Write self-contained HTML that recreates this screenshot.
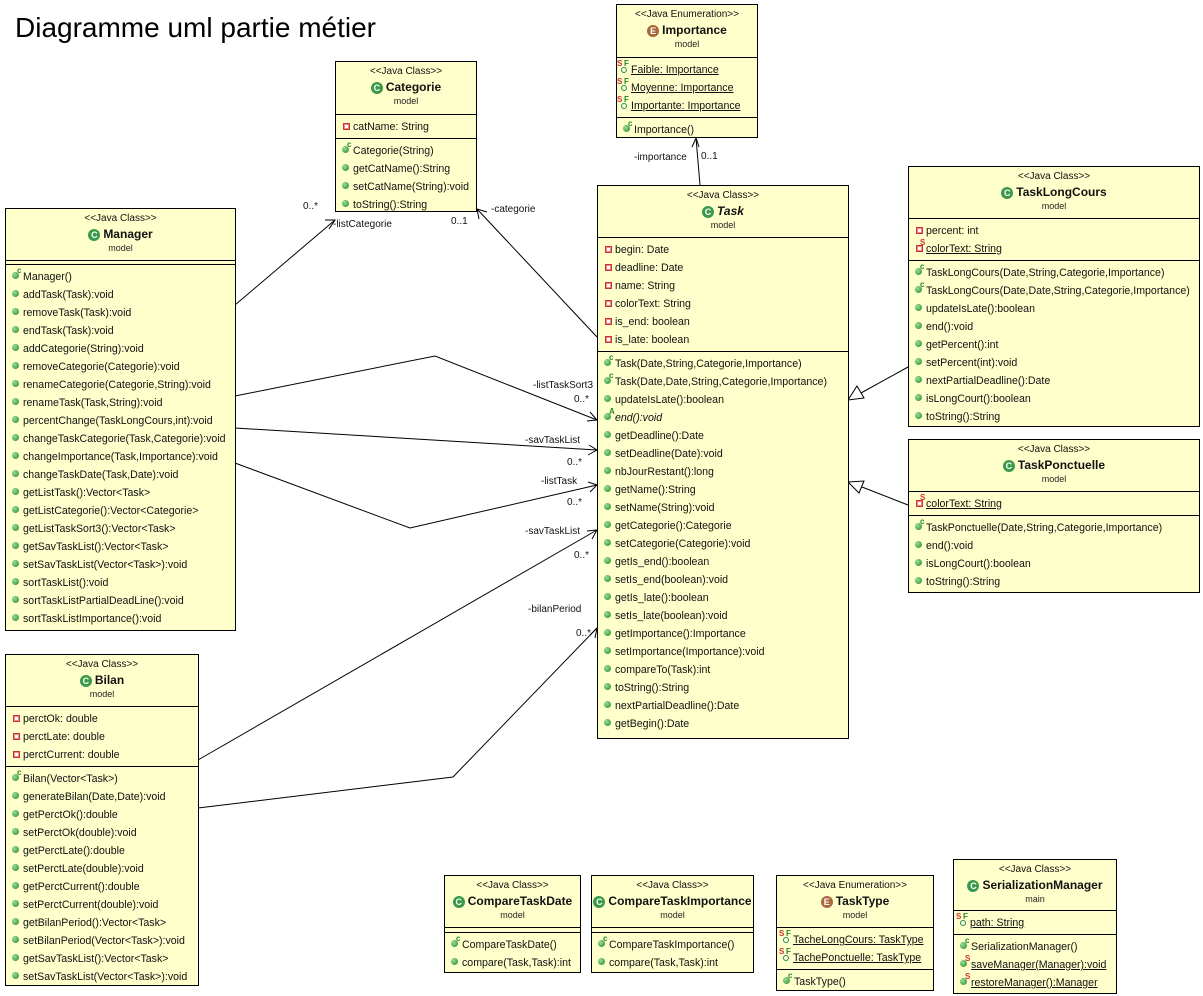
<!DOCTYPE html>
<html><head><meta charset="utf-8"><style>
body{margin:0;width:1203px;height:996px;background:#fff;position:relative;font-family:"Liberation Sans",sans-serif;font-size:10.6px;color:#111;overflow:hidden}
.t{position:absolute;left:15px;top:12px;font-size:28px;color:#000}
.b{position:absolute;background:#ffffcc;border:1px solid #000;box-sizing:border-box}
.h{text-align:center;border-bottom:1px solid #000;box-sizing:border-box}
.h .st{font-size:10px;padding-top:4px;height:13px}
.h .nm{font-weight:bold;font-size:12px;height:17px;line-height:17px}
.h .pk{font-size:9px;color:#222;height:14px}
.s{border-bottom:1px solid #000;padding:3px 0 2px}
.s:last-child{border-bottom:none}
.r{height:18px;line-height:18px;padding-left:6px;white-space:nowrap}
.i{display:inline-block;width:11px;position:relative;height:10px;vertical-align:-1px}
.pv:before{content:"";position:absolute;left:1px;top:2px;width:5px;height:5px;background:#fff;border:1px solid #c33;box-shadow:inset 0 0 0 1px #e88}
.pm:before{content:"";position:absolute;left:0;top:1px;width:7px;height:7px;border-radius:50%;background:radial-gradient(circle at 35% 35%,#9d9,#282)}
.sup{position:absolute;left:5px;top:-4px;font-size:8px;font-weight:bold;color:#282;line-height:8px}
.sr{color:#c33}
.sf{width:14px}
.sf:before{content:"";position:absolute;left:4px;top:3px;width:4px;height:4px;border-radius:50%;border:1px solid #286}
.ic{display:inline-block;width:12px;height:12px;border-radius:50%;background:#3a9a4a;color:#fff;font-size:9px;line-height:12px;text-align:center;margin-right:3px;vertical-align:0px}
.ie{background:#a8683a}
.u{text-decoration:underline}
svg{position:absolute;left:0;top:0}
.lb{position:absolute;font-size:10px;color:#111;white-space:nowrap}
</style></head><body>
<div class="t">Diagramme uml partie métier</div>
<svg width="1203" height="996" fill="none" stroke="#000" stroke-width="1">
<polyline points="235,305 335,220"/><polyline points="325,220 335,220 329,229"/>
<polyline points="597,337 477,209"/><polyline points="479,219 477,209 487,212"/>
<polyline points="700,185 696,138"/><polyline points="692,147 696,138 699,147"/>
<polyline points="235,396 435,356 597,420"/><polyline points="587,421 597,420 590,412"/>
<polyline points="235,428 597,450"/><polyline points="588,455 597,450 589,445"/>
<polyline points="235,463 410,528 597,485"/><polyline points="590,492 597,485 588,482"/>
<polyline points="198,760 597,530"/><polyline points="587,531 597,530 592,539"/>
<polyline points="198,808 453,777 597,628"/><polyline points="590,635 597,628 595,638"/>
<line x1="908" y1="367" x2="861" y2="393"/><polygon points="848,400 857,386 864,398" fill="#fff"/>
<line x1="908" y1="505" x2="862" y2="487"/><polygon points="848,482 864,481 859,493" fill="#fff"/>
</svg>
<div class="lb" style="left:303px;top:201px">0..*</div>
<div class="lb" style="left:333px;top:219px">-listCategorie</div>
<div class="lb" style="left:491px;top:204px">-categorie</div>
<div class="lb" style="left:451px;top:216px">0..1</div>
<div class="lb" style="left:634px;top:152px">-importance</div>
<div class="lb" style="left:701px;top:151px">0..1</div>
<div class="lb" style="left:533px;top:380px">-listTaskSort3</div>
<div class="lb" style="left:574px;top:394px">0..*</div>
<div class="lb" style="left:525px;top:435px">-savTaskList</div>
<div class="lb" style="left:567px;top:457px">0..*</div>
<div class="lb" style="left:541px;top:476px">-listTask</div>
<div class="lb" style="left:567px;top:497px">0..*</div>
<div class="lb" style="left:525px;top:526px">-savTaskList</div>
<div class="lb" style="left:574px;top:550px">0..*</div>
<div class="lb" style="left:528px;top:604px">-bilanPeriod</div>
<div class="lb" style="left:576px;top:628px">0..*</div>

<div class="b" style="left:616px;top:4px;width:142px;height:134px">
<div class="h" style="height:53px"><div class="st">&lt;&lt;Java Enumeration&gt;&gt;</div><div class="nm"><span class="ic ie">E</span>Importance</div><div class="pk">model</div></div>
<div class="s"><div class="r" style="padding-left:0"><span class="i sf"><span class="sup sr" style="left:0">S</span><span class="sup" style="left:7px">F</span></span><span class="u">Faible: Importance</span></div><div class="r" style="padding-left:0"><span class="i sf"><span class="sup sr" style="left:0">S</span><span class="sup" style="left:7px">F</span></span><span class="u">Moyenne: Importance</span></div><div class="r" style="padding-left:0"><span class="i sf"><span class="sup sr" style="left:0">S</span><span class="sup" style="left:7px">F</span></span><span class="u">Importante: Importance</span></div></div>
<div class="s"><div class="r"><span class="i pm"><span class="sup">c</span></span>Importance()</div></div>
</div>

<div class="b" style="left:335px;top:61px;width:142px;height:151px">
<div class="h" style="height:53px"><div class="st">&lt;&lt;Java Class&gt;&gt;</div><div class="nm"><span class="ic">C</span>Categorie</div><div class="pk">model</div></div>
<div class="s"><div class="r"><span class="i pv"></span>catName: String</div></div>
<div class="s"><div class="r"><span class="i pm"><span class="sup">c</span></span>Categorie(String)</div><div class="r"><span class="i pm"></span>getCatName():String</div><div class="r"><span class="i pm"></span>setCatName(String):void</div><div class="r"><span class="i pm"></span>toString():String</div></div>
</div>

<div class="b" style="left:5px;top:208px;width:231px;height:423px">
<div class="h" style="height:51px;border-bottom:none"><div class="st">&lt;&lt;Java Class&gt;&gt;</div><div class="nm"><span class="ic">C</span>Manager</div><div class="pk">model</div></div>
<div style="border-top:1px solid #000;border-bottom:1px solid #000;height:3px"></div>
<div class="s" style="padding-top:3px">
<div class="r"><span class="i pm"><span class="sup">c</span></span>Manager()</div>
<div class="r"><span class="i pm"></span>addTask(Task):void</div>
<div class="r"><span class="i pm"></span>removeTask(Task):void</div>
<div class="r"><span class="i pm"></span>endTask(Task):void</div>
<div class="r"><span class="i pm"></span>addCategorie(String):void</div>
<div class="r"><span class="i pm"></span>removeCategorie(Categorie):void</div>
<div class="r"><span class="i pm"></span>renameCategorie(Categorie,String):void</div>
<div class="r"><span class="i pm"></span>renameTask(Task,String):void</div>
<div class="r"><span class="i pm"></span>percentChange(TaskLongCours,int):void</div>
<div class="r"><span class="i pm"></span>changeTaskCategorie(Task,Categorie):void</div>
<div class="r"><span class="i pm"></span>changeImportance(Task,Importance):void</div>
<div class="r"><span class="i pm"></span>changeTaskDate(Task,Date):void</div>
<div class="r"><span class="i pm"></span>getListTask():Vector&lt;Task&gt;</div>
<div class="r"><span class="i pm"></span>getListCategorie():Vector&lt;Categorie&gt;</div>
<div class="r"><span class="i pm"></span>getListTaskSort3():Vector&lt;Task&gt;</div>
<div class="r"><span class="i pm"></span>getSavTaskList():Vector&lt;Task&gt;</div>
<div class="r"><span class="i pm"></span>setSavTaskList(Vector&lt;Task&gt;):void</div>
<div class="r"><span class="i pm"></span>sortTaskList():void</div>
<div class="r"><span class="i pm"></span>sortTaskListPartialDeadLine():void</div>
<div class="r"><span class="i pm"></span>sortTaskListImportance():void</div>
</div></div>

<div class="b" style="left:5px;top:654px;width:194px;height:332px">
<div class="h" style="height:52px"><div class="st">&lt;&lt;Java Class&gt;&gt;</div><div class="nm"><span class="ic">C</span>Bilan</div><div class="pk">model</div></div>
<div class="s"><div class="r"><span class="i pv"></span>perctOk: double</div><div class="r"><span class="i pv"></span>perctLate: double</div><div class="r"><span class="i pv"></span>perctCurrent: double</div></div>
<div class="s">
<div class="r"><span class="i pm"><span class="sup">c</span></span>Bilan(Vector&lt;Task&gt;)</div>
<div class="r"><span class="i pm"></span>generateBilan(Date,Date):void</div>
<div class="r"><span class="i pm"></span>getPerctOk():double</div>
<div class="r"><span class="i pm"></span>setPerctOk(double):void</div>
<div class="r"><span class="i pm"></span>getPerctLate():double</div>
<div class="r"><span class="i pm"></span>setPerctLate(double):void</div>
<div class="r"><span class="i pm"></span>getPerctCurrent():double</div>
<div class="r"><span class="i pm"></span>setPerctCurrent(double):void</div>
<div class="r"><span class="i pm"></span>getBilanPeriod():Vector&lt;Task&gt;</div>
<div class="r"><span class="i pm"></span>setBilanPeriod(Vector&lt;Task&gt;):void</div>
<div class="r"><span class="i pm"></span>getSavTaskList():Vector&lt;Task&gt;</div>
<div class="r"><span class="i pm"></span>setSavTaskList(Vector&lt;Task&gt;):void</div>
</div></div>

<div class="b" style="left:597px;top:185px;width:252px;height:554px">
<div class="h" style="height:52px"><div class="st">&lt;&lt;Java Class&gt;&gt;</div><div class="nm"><span class="ic">C</span><i>Task</i></div><div class="pk">model</div></div>
<div class="s"><div class="r"><span class="i pv"></span>begin: Date</div><div class="r"><span class="i pv"></span>deadline: Date</div><div class="r"><span class="i pv"></span>name: String</div><div class="r"><span class="i pv"></span>colorText: String</div><div class="r"><span class="i pv"></span>is_end: boolean</div><div class="r"><span class="i pv"></span>is_late: boolean</div></div>
<div class="s">
<div class="r"><span class="i pm"><span class="sup">c</span></span>Task(Date,String,Categorie,Importance)</div>
<div class="r"><span class="i pm"><span class="sup">c</span></span>Task(Date,Date,String,Categorie,Importance)</div>
<div class="r"><span class="i pm"></span>updateIsLate():boolean</div>
<div class="r"><span class="i pm"><span class="sup">A</span></span><i>end():void</i></div>
<div class="r"><span class="i pm"></span>getDeadline():Date</div>
<div class="r"><span class="i pm"></span>setDeadline(Date):void</div>
<div class="r"><span class="i pm"></span>nbJourRestant():long</div>
<div class="r"><span class="i pm"></span>getName():String</div>
<div class="r"><span class="i pm"></span>setName(String):void</div>
<div class="r"><span class="i pm"></span>getCategorie():Categorie</div>
<div class="r"><span class="i pm"></span>setCategorie(Categorie):void</div>
<div class="r"><span class="i pm"></span>getIs_end():boolean</div>
<div class="r"><span class="i pm"></span>setIs_end(boolean):void</div>
<div class="r"><span class="i pm"></span>getIs_late():boolean</div>
<div class="r"><span class="i pm"></span>setIs_late(boolean):void</div>
<div class="r"><span class="i pm"></span>getImportance():Importance</div>
<div class="r"><span class="i pm"></span>setImportance(Importance):void</div>
<div class="r"><span class="i pm"></span>compareTo(Task):int</div>
<div class="r"><span class="i pm"></span>toString():String</div>
<div class="r"><span class="i pm"></span>nextPartialDeadline():Date</div>
<div class="r"><span class="i pm"></span>getBegin():Date</div>
</div></div>

<div class="b" style="left:908px;top:166px;width:292px;height:261px">
<div class="h" style="height:52px"><div class="st">&lt;&lt;Java Class&gt;&gt;</div><div class="nm"><span class="ic">C</span>TaskLongCours</div><div class="pk">model</div></div>
<div class="s"><div class="r"><span class="i pv"></span>percent: int</div><div class="r"><span class="i pv"><span class="sup sr">S</span></span><span class="u">colorText: String</span></div></div>
<div class="s">
<div class="r"><span class="i pm"><span class="sup">c</span></span>TaskLongCours(Date,String,Categorie,Importance)</div>
<div class="r"><span class="i pm"><span class="sup">c</span></span>TaskLongCours(Date,Date,String,Categorie,Importance)</div>
<div class="r"><span class="i pm"></span>updateIsLate():boolean</div>
<div class="r"><span class="i pm"></span>end():void</div>
<div class="r"><span class="i pm"></span>getPercent():int</div>
<div class="r"><span class="i pm"></span>setPercent(int):void</div>
<div class="r"><span class="i pm"></span>nextPartialDeadline():Date</div>
<div class="r"><span class="i pm"></span>isLongCourt():boolean</div>
<div class="r"><span class="i pm"></span>toString():String</div>
</div></div>

<div class="b" style="left:908px;top:439px;width:292px;height:154px">
<div class="h" style="height:52px"><div class="st">&lt;&lt;Java Class&gt;&gt;</div><div class="nm"><span class="ic">C</span>TaskPonctuelle</div><div class="pk">model</div></div>
<div class="s"><div class="r"><span class="i pv"><span class="sup sr">S</span></span><span class="u">colorText: String</span></div></div>
<div class="s">
<div class="r"><span class="i pm"><span class="sup">c</span></span>TaskPonctuelle(Date,String,Categorie,Importance)</div>
<div class="r"><span class="i pm"></span>end():void</div>
<div class="r"><span class="i pm"></span>isLongCourt():boolean</div>
<div class="r"><span class="i pm"></span>toString():String</div>
</div></div>

<div class="b" style="left:444px;top:875px;width:137px;height:98px">
<div class="h" style="height:51px;border-bottom:none"><div class="st">&lt;&lt;Java Class&gt;&gt;</div><div class="nm"><span class="ic">C</span>CompareTaskDate</div><div class="pk">model</div></div>
<div style="border-top:1px solid #000;border-bottom:1px solid #000;height:4px"></div>
<div class="s"><div class="r"><span class="i pm"><span class="sup">c</span></span>CompareTaskDate()</div><div class="r"><span class="i pm"></span>compare(Task,Task):int</div></div>
</div>

<div class="b" style="left:591px;top:875px;width:163px;height:98px">
<div class="h" style="height:51px;border-bottom:none"><div class="st">&lt;&lt;Java Class&gt;&gt;</div><div class="nm"><span class="ic">C</span>CompareTaskImportance</div><div class="pk">model</div></div>
<div style="border-top:1px solid #000;border-bottom:1px solid #000;height:4px"></div>
<div class="s"><div class="r"><span class="i pm"><span class="sup">c</span></span>CompareTaskImportance()</div><div class="r"><span class="i pm"></span>compare(Task,Task):int</div></div>
</div>

<div class="b" style="left:776px;top:875px;width:158px;height:116px">
<div class="h" style="height:52px"><div class="st">&lt;&lt;Java Enumeration&gt;&gt;</div><div class="nm"><span class="ic ie">E</span>TaskType</div><div class="pk">model</div></div>
<div class="s"><div class="r" style="padding-left:2px"><span class="i sf"><span class="sup sr" style="left:0">S</span><span class="sup" style="left:7px">F</span></span><span class="u">TacheLongCours: TaskType</span></div><div class="r" style="padding-left:2px"><span class="i sf"><span class="sup sr" style="left:0">S</span><span class="sup" style="left:7px">F</span></span><span class="u">TachePonctuelle: TaskType</span></div></div>
<div class="s"><div class="r"><span class="i pm"><span class="sup">c</span></span>TaskType()</div></div>
</div>

<div class="b" style="left:953px;top:859px;width:164px;height:135px">
<div class="h" style="height:51px"><div class="st">&lt;&lt;Java Class&gt;&gt;</div><div class="nm"><span class="ic">C</span>SerializationManager</div><div class="pk">main</div></div>
<div class="s"><div class="r" style="padding-left:2px"><span class="i sf"><span class="sup sr" style="left:0">S</span><span class="sup" style="left:7px">F</span></span><span class="u">path: String</span></div></div>
<div class="s">
<div class="r"><span class="i pm"><span class="sup">c</span></span>SerializationManager()</div>
<div class="r"><span class="i pm"><span class="sup sr">S</span></span><span class="u">saveManager(Manager):void</span></div>
<div class="r"><span class="i pm"><span class="sup sr">S</span></span><span class="u">restoreManager():Manager</span></div>
</div></div>
</body></html>
